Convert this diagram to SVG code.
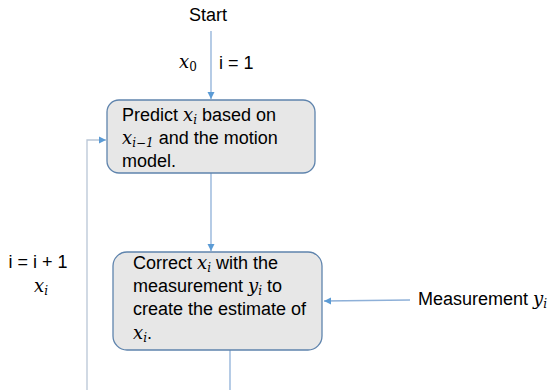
<svg xmlns="http://www.w3.org/2000/svg" width="552" height="390" viewBox="0 0 552 390">
<style>
.t{font-family:"Liberation Sans",Arial,sans-serif;font-size:18px;fill:#000}
.m{font-family:"DejaVu Serif","Liberation Serif",serif;font-style:italic;font-size:18px}
.s{font-size:12px}
.box{fill:#e7e7e7;stroke:#5f84ad;stroke-width:1.3}
.ln{fill:none;stroke:#8eb0d8;stroke-width:1.3}
</style>
<defs>
<marker id="ah" markerWidth="8" markerHeight="8" refX="7" refY="4" orient="auto" markerUnits="userSpaceOnUse">
<path d="M0,0.5 L7,4 L0,7.5 z" fill="#5b9bd5"/>
</marker>
</defs>
<g id="connectors">
<line class="ln" x1="211" y1="31" x2="211" y2="99" marker-end="url(#ah)"/>
<line class="ln" x1="211" y1="173" x2="211" y2="251" marker-end="url(#ah)"/>
<line class="ln" x1="410" y1="300" x2="324" y2="301" marker-end="url(#ah)"/>
<line class="ln" x1="230" y1="350" x2="230" y2="390"/>
<polyline class="ln" points="87,390 87,140 106,140" marker-end="url(#ah)" style="stroke:#b9c6d6"/>
</g>
<g id="start"><text class="t" x="208" y="21" text-anchor="middle">Start</text></g>
<g id="init-labels">
<text class="t m" x="179" y="68">x<tspan class="s" dy="3" style="font-style:normal">0</tspan></text>
<text class="t" x="219" y="69">i = 1</text>
</g>
<g id="predict">
<rect class="box" x="107" y="100" width="208" height="73" rx="12"/>
<text class="t" x="122" y="121">Predict <tspan class="m">x</tspan><tspan class="m s" dy="3">i</tspan><tspan dy="-3"> based on</tspan></text>
<text class="t" x="122" y="144"><tspan class="m">x</tspan><tspan class="m s" dy="3">i−1</tspan><tspan dy="-3"> and the motion</tspan></text>
<text class="t" x="122" y="167">model.</text>
</g>
<g id="loop-labels">
<text class="t" x="38" y="268" text-anchor="middle">i = i + 1</text>
<text class="t m" x="34" y="292">x<tspan class="s" dy="3">i</tspan></text>
</g>
<g id="correct">
<rect class="box" x="113" y="252" width="209" height="98" rx="14"/>
<text class="t" x="133" y="269">Correct <tspan class="m">x</tspan><tspan class="m s" dy="3">i</tspan><tspan dy="-3"> with the</tspan></text>
<text class="t" x="133" y="292">measurement <tspan class="m">y</tspan><tspan class="m s" dy="3">i</tspan><tspan dy="-3"> to</tspan></text>
<text class="t" x="133" y="315">create the estimate of</text>
<text class="t" x="133" y="339"><tspan class="m">x</tspan><tspan class="m s" dy="3">i</tspan><tspan dy="-3">.</tspan></text>
</g>
<g id="measurement"><text class="t" x="418" y="305">Measurement <tspan class="m">y</tspan><tspan class="m s" dy="3">i</tspan></text></g>
</svg>
